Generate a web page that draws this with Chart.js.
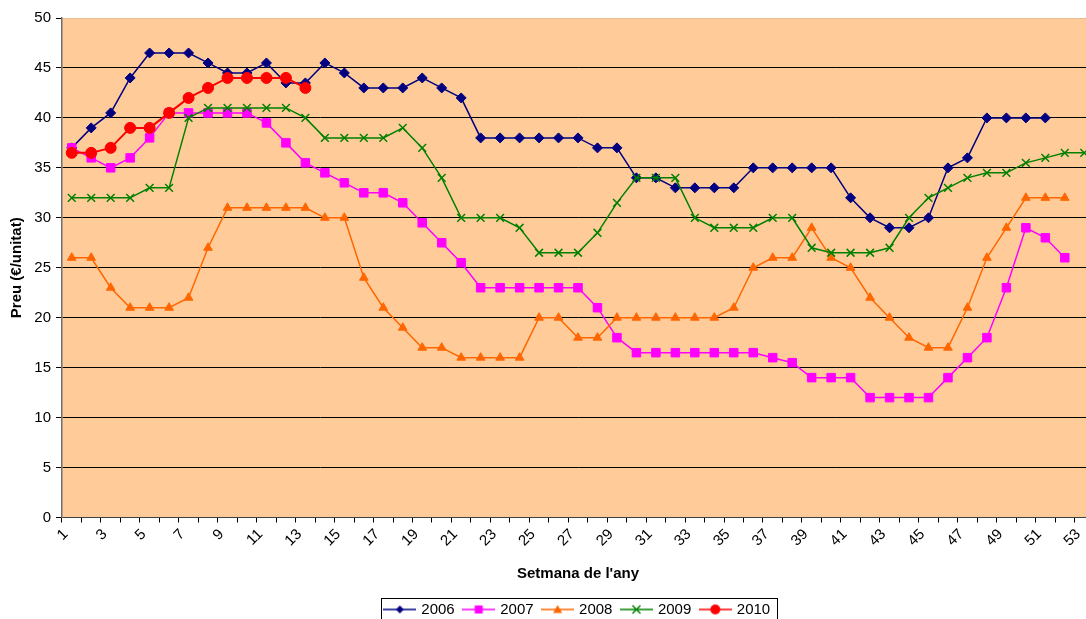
<!DOCTYPE html>
<html>
<head>
<meta charset="utf-8">
<title>Preu setmanal</title>
<script src="https://cdn.jsdelivr.net/npm/chart.js@4.4.1/dist/chart.umd.min.js"></script>
<style>
  html, body { margin: 0; padding: 0; background: #ffffff; overflow: hidden; }
  #wrap { width: 1101px; height: 627px; position: relative; }
</style>
</head>
<body>
<div id="wrap"><canvas id="preus"></canvas></div>
<script>
// ---- data ----
const weeks = ['1','2','3','4','5','6','7','8','9','10','11','12','13','14','15','16','17','18','19','20',
  '21','22','23','24','25','26','27','28','29','30','31','32','33','34','35','36','37','38','39','40',
  '41','42','43','44','45','46','47','48','49','50','51','52','53'];

const y2006 = [37, 39, 40.5, 44, 46.5, 46.5, 46.5, 45.5, 44.5, 44.5,
  45.5, 43.5, 43.5, 45.5, 44.5, 43, 43, 43, 44, 43,
  42, 38, 38, 38, 38, 38, 38, 37, 37, 34,
  34, 33, 33, 33, 33, 35, 35, 35, 35, 35,
  32, 30, 29, 29, 30, 35, 36, 40, 40, 40,
  40, null, null];

const y2007 = [37, 36, 35, 36, 38, 40.5, 40.5, 40.5, 40.5, 40.5,
  39.5, 37.5, 35.5, 34.5, 33.5, 32.5, 32.5, 31.5, 29.5, 27.5,
  25.5, 23, 23, 23, 23, 23, 23, 21, 18, 16.5,
  16.5, 16.5, 16.5, 16.5, 16.5, 16.5, 16, 15.5, 14, 14,
  14, 12, 12, 12, 12, 14, 16, 18, 23, 29,
  28, 26, null];

const y2008 = [26, 26, 23, 21, 21, 21, 22, 27, 31, 31,
  31, 31, 31, 30, 30, 24, 21, 19, 17, 17,
  16, 16, 16, 16, 20, 20, 18, 18, 20, 20,
  20, 20, 20, 20, 21, 25, 26, 26, 29, 26,
  25, 22, 20, 18, 17, 17, 21, 26, 29, 32,
  32, 32, null];

const y2009 = [32, 32, 32, 32, 33, 33, 40, 41, 41, 41,
  41, 41, 40, 38, 38, 38, 38, 39, 37, 34,
  30, 30, 30, 29, 26.5, 26.5, 26.5, 28.5, 31.5, 34,
  34, 34, 30, 29, 29, 29, 30, 30, 27, 26.5,
  26.5, 26.5, 27, 30, 32, 33, 34, 34.5, 34.5, 35.5,
  36, 36.5, 36.5];

const y2010 = [36.5, 36.5, 37, 39, 39, 40.5, 42, 43, 44, 44,
  44, 44, 43, null, null, null, null, null, null, null,
  null, null, null, null, null, null, null, null, null, null,
  null, null, null, null, null, null, null, null, null, null,
  null, null, null, null, null, null, null, null, null, null,
  null, null, null];

const yTicks = [0, 5, 10, 15, 20, 25, 30, 35, 40, 45, 50];

// ---- styles ----
const FONT = '"Liberation Sans", Arial, sans-serif';
const FONT_SIZE = 15;
const PLOT_BG = '#FFCC99';

// small line+marker pictures for the legend (Excel style)
function legendImage(color, style, r) {
  const c = document.createElement('canvas');
  c.width = 33;
  c.height = 14;
  const ctx = c.getContext('2d');
  const x = 16.5, y = 7;
  ctx.strokeStyle = color;
  ctx.fillStyle = color;
  ctx.lineWidth = 1.5;
  ctx.beginPath();
  ctx.moveTo(0, y);
  ctx.lineTo(33, y);
  ctx.stroke();
  ctx.beginPath();
  if (style === 'rectRot') {
    ctx.moveTo(x, y - r); ctx.lineTo(x + r, y); ctx.lineTo(x, y + r); ctx.lineTo(x - r, y);
    ctx.closePath(); ctx.fill();
  } else if (style === 'rect') {
    ctx.fillRect(x - r, y - r, 2 * r, 2 * r);
  } else if (style === 'triangle') {
    ctx.moveTo(x, y - r); ctx.lineTo(x + r, y + r * 0.8); ctx.lineTo(x - r, y + r * 0.8);
    ctx.closePath(); ctx.fill();
  } else if (style === 'crossRot') {
    ctx.moveTo(x - r, y - r); ctx.lineTo(x + r, y + r);
    ctx.moveTo(x + r, y - r); ctx.lineTo(x - r, y + r);
    ctx.stroke();
  } else {
    ctx.arc(x, y, r, 0, Math.PI * 2); ctx.fill();
  }
  return c;
}

function series(label, data, color, style, radius, width, order, legR) {
  return {
    label: label,
    data: data,
    borderColor: color,
    backgroundColor: color,
    pointBackgroundColor: color,
    pointBorderColor: color,
    pointStyle: style,
    pointRadius: radius,
    pointHoverRadius: radius,
    pointBorderWidth: style === 'crossRot' ? 1.5 : 1,
    borderWidth: width,
    tension: 0,
    fill: false,
    order: order,
    legendImg: legendImage(color, style, legR)
  };
}

// paint the tan plot area
const plotBackground = {
  id: 'plotBackground',
  beforeDraw(chart) {
    const {ctx, chartArea: a} = chart;
    ctx.save();
    ctx.fillStyle = PLOT_BG;
    ctx.fillRect(a.left, a.top, a.right - a.left, a.bottom - a.top);
    ctx.restore();
  }
};

// box round the legend
const legendFrame = {
  id: 'legendFrame',
  afterDraw(chart) {
    const boxes = chart.legend && chart.legend.legendHitBoxes;
    if (!boxes || !boxes.length) return;
    const last = boxes[boxes.length - 1];
    const left = boxes[0].left - 5;
    const right = last.left + last.width + 7;
    const ctx = chart.ctx;
    ctx.save();
    ctx.strokeStyle = '#000000';
    ctx.lineWidth = 1;
    ctx.strokeRect(Math.round(left) + 0.5, 598.5, Math.round(right - left), 25);
    ctx.restore();
  }
};

const ctx = document.getElementById('preus').getContext('2d');

const preusChart = new Chart(ctx, {
  type: 'line',
  data: {
    labels: weeks,
    datasets: [
      series('2006', y2006, '#000080', 'rectRot', 5, 1.5, 5, 4),
      series('2007', y2007, '#FF00FF', 'rect', 6, 1.5, 4, 4),
      series('2008', y2008, '#FF6600', 'triangle', 5, 1.5, 3, 4.5),
      series('2009', y2009, '#008000', 'crossRot', 5.5, 1.5, 2, 4),
      series('2010', y2010, '#FF0000', 'circle', 5.5, 2, 1, 5)
    ]
  },
  options: {
    responsive: true,
    maintainAspectRatio: false,
    animation: false,
    layout: {
      padding: { top: 18, left: 0, right: 0, bottom: 0 }
    },
    scales: {
      x: {
        type: 'category',
        offset: true,
        afterFit(scale) { scale.height = 74.5; },
        grid: {
          display: true,
          offset: true,
          drawOnChartArea: false,
          drawTicks: true,
          tickLength: 5,
          color: '#000000'
        },
        border: { display: true, color: '#404040', width: 1 },
        ticks: {
          autoSkip: false,
          maxRotation: 45,
          minRotation: 45,
          labelOffset: -6,
          padding: 3,
          color: '#000000',
          font: { family: FONT, size: FONT_SIZE },
          callback: function (value, index) {
            return index % 2 === 0 ? weeks[index] : '';
          }
        },
        title: {
          display: true,
          text: "Setmana de l'any",
          color: '#000000',
          font: { family: FONT, size: FONT_SIZE, weight: 'bold' },
          padding: { top: 4, bottom: 9.5 }
        }
      },
      y: {
        min: 0,
        max: 50,
        afterFit(scale) { scale.width = 62; },
        afterBuildTicks(scale) {
          scale.ticks = yTicks.map(v => ({ value: v }));
        },
        grid: {
          color: c => (c.tick && c.tick.value === 50) ? '#E6BC90' : '#000000',
          tickColor: '#000000',
          tickLength: 6,
          lineWidth: 1
        },
        border: { display: true, color: '#6E6E6E', width: 1.5 },
        ticks: {
          stepSize: 5,
          padding: 5,
          color: '#000000',
          font: { family: FONT, size: FONT_SIZE }
        },
        title: {
          display: true,
          text: 'Preu (€/unitat)',
          color: '#000000',
          font: { family: FONT, size: FONT_SIZE, weight: 'bold' },
          padding: { top: 8, bottom: 0 }
        }
      }
    },
    plugins: {
      legend: {
        display: true,
        position: 'bottom',
        fullSize: false,
        labels: {
          usePointStyle: true,
          pointStyleWidth: 28,
          padding: 10,
          color: '#000000',
          font: { family: FONT, size: FONT_SIZE },
          generateLabels(chart) {
            return chart.data.datasets.map((ds, i) => ({
              text: ds.label,
              fillStyle: ds.borderColor,
              strokeStyle: ds.borderColor,
              fontColor: '#000000',
              lineWidth: 0,
              pointStyle: ds.legendImg,
              hidden: !chart.isDatasetVisible(i),
              datasetIndex: i
            }));
          }
        }
      },
      tooltip: { enabled: true }
    }
  },
  plugins: [plotBackground, legendFrame]
});
</script>
</body>
</html>
